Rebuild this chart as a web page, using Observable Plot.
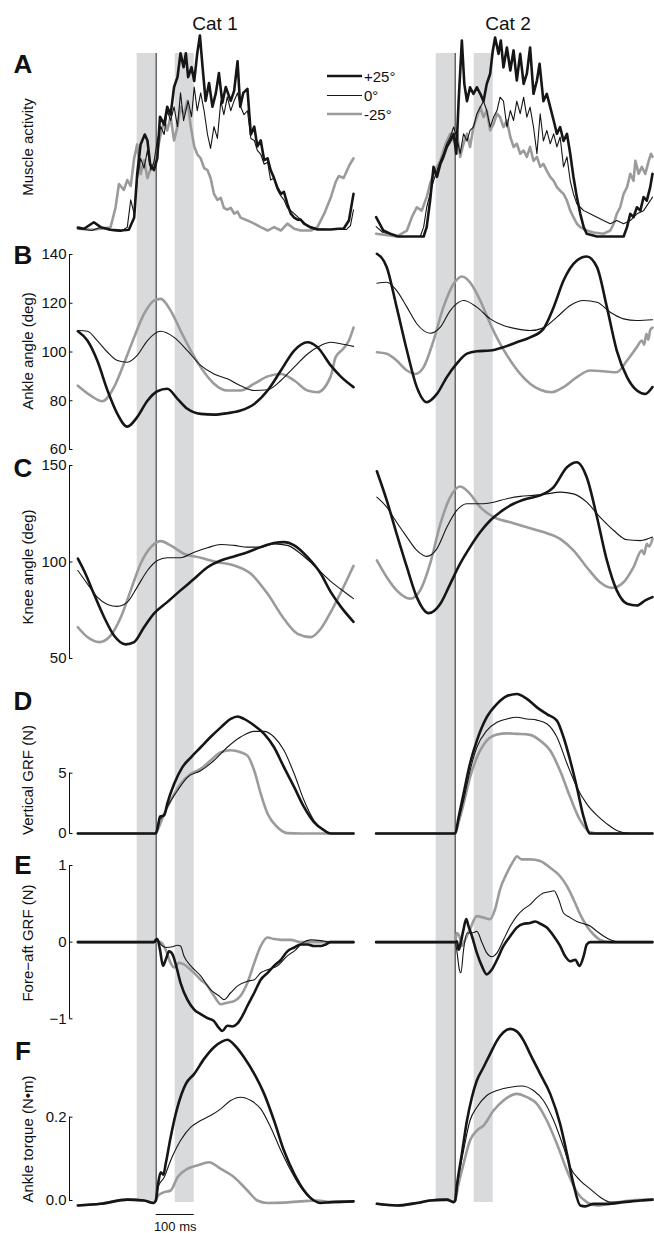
<!DOCTYPE html>
<html><head><meta charset="utf-8">
<script src="https://cdn.jsdelivr.net/npm/d3@7"></script>
<script src="https://cdn.jsdelivr.net/npm/@observablehq/plot@0.6"></script>
<style>
html,body{margin:0;padding:0;background:#fff;overflow:hidden;}
#fig{position:relative;width:654px;height:1233px;overflow:hidden;font-family:"Liberation Sans",Arial,Helvetica,sans-serif;color:#111;}
#fig .t{position:absolute;white-space:nowrap;transform:translate(-50%,-50%);line-height:1;}
#fig .letter{font-weight:bold;font-size:26px;}
#fig .cat{font-size:19px;}
#fig .ylab{font-size:15px;transform:translate(-50%,-50%) rotate(-90deg);}
</style></head>
<body><div id="fig"></div>
<script>
// ---------- categories / labels ----------
const conditionLabels = ["+25°", "0°", "-25°"];
const catLabels = ["Cat 1", "Cat 2"];
const panelLetters = ["A", "B", "C", "D", "E", "F"];
const yTitles = ["Muscle activity", "Ankle angle (deg)", "Knee angle (deg)", "Vertical GRF (N)", "Fore\u2212aft GRF (N)", "Ankle torque (N\u2022m)"];
const tDomain = [-207, 519];             // ms relative to paw contact
const bands = [{start: -50, end: 0}, {start: 50, end: 100}];
const contactTime = 0;
const scaleBar = [{start: 0, end: 100, label: "100 ms"}];
const ticksB = [60, 80, 100, 120, 140];
const ticksC = [50, 100, 150];
const ticksD = [0, 5];
const ticksE = [-1, 0, 1];
const ticksF = [0, 0.2];

// ---------- A: muscle activity (a.u.) [t ms, value] ----------
const A1_p25 = [[-206,3],[-190,2.4],[-164,5.7],[-146,3.2],[-120,1.9],[-93,1.5],[-72,1.9],[-58,8],[-50,30],[-41,45],[-30,50],[-23,47],[-16,35],[-6,32],[3,38],[10,59],[21,55],[29,64],[38,60],[47,74],[56,79],[64,91],[72,84],[78,91],[84,79],[93,84],[100,77],[108,91],[115,100],[122,84],[130,67],[139,76],[148,64],[157,71],[165,81],[174,66],[183,74],[196,67],[205,72],[214,87],[221,64],[229,71],[240,73],[249,50],[258,54],[266,44],[275,47],[284,37],[293,38],[301,32],[310,28],[319,23],[328,20],[336,21],[345,15],[354,10],[363,8],[372,7],[380,7],[389,5],[407,3],[424,2],[459,2],[480,2.4],[493,2.4],[507,6.6],[519,20]];
const A1_0 = [[-206,2.4],[-170,1.5],[-146,3.2],[-120,1.5],[-93,1],[-76,3.2],[-67,17],[-58,10],[-50,27],[-41,38],[-32,33],[-23,42],[-14,32],[-6,36],[3,47],[12,54],[21,50],[29,62],[38,57],[47,64],[56,54],[64,71],[72,57],[84,67],[93,59],[100,74],[108,62],[117,71],[126,62],[135,50],[143,43],[152,54],[161,48],[170,67],[178,60],[187,69],[196,62],[205,67],[214,71],[222,64],[231,60],[240,62],[249,48],[258,47],[266,42],[275,40],[284,35],[293,36],[301,27],[310,28],[319,22],[328,19],[336,17],[345,13],[363,10],[380,7],[398,4],[424,2.4],[459,2],[500,2],[511,4],[519,12]];
const A1_m25 = [[-206,2.4],[-164,1.9],[-120,3.2],[-107,13],[-98,25],[-85,22],[-76,27],[-67,24],[-58,38],[-50,45],[-41,30],[-32,37],[-23,28],[-14,33],[-6,35],[3,42],[12,50],[21,57],[29,52],[38,59],[47,47],[56,54],[64,64],[73,60],[82,67],[91,54],[100,44],[108,40],[117,38],[126,33],[135,32],[143,28],[152,20],[161,17],[170,18],[178,13],[187,12],[196,13],[205,10],[214,11],[222,8],[240,6.6],[258,5],[275,3.2],[293,1.5],[310,3.2],[328,1.5],[345,5],[363,2.4],[380,1.5],[407,1.5],[424,3.2],[442,10],[459,18],[472,26],[480,29],[493,28],[507,34],[519,38]];
const A2_p25 = [[-208,9.7],[-189,3],[-171,1.4],[-150,0],[-83,0],[-75,4.7],[-66,18],[-57,35],[-48,30],[-39,36.5],[-31,40],[-22,45],[-13,48],[-4,51.6],[3,41.6],[9,68],[17.5,98.5],[24,76.7],[31,68],[39,75],[48,71.7],[57,75],[66,71.7],[74.5,68],[83,76.7],[92,81.8],[99,93.5],[105,100],[114,91.8],[120,98.5],[127,85],[136,95],[145,83.4],[153.5,93.5],[162,78.4],[171,91.8],[180,76.7],[188.5,81.8],[197,95],[206,71.7],[215,78.4],[222,86.8],[232,68],[241,71.7],[250,65],[259,58.3],[267.5,51.6],[276,55],[285,48],[294,51.6],[302.6,41.6],[311,30],[320,19.8],[329,11.4],[338,4.7],[346,1.4],[373,0],[443,0],[452,4.7],[460.5,11.4],[469,9.7],[478,14.7],[487,13],[495.5,19.8],[504,18],[513,24.8],[519,31.5]];
const A2_0 = [[-208,5],[-190,2],[-171,1.4],[-150,0],[-92,0],[-83,4.7],[-75,14.7],[-66,21.4],[-57,28],[-48,33],[-39,38],[-31,41.6],[-22,46.6],[-13,50],[-4,55],[4,50],[13,41.6],[22,51.6],[31,48],[39,53.3],[48,55],[57,61.7],[66,65],[74.5,68],[83,63.3],[92,55],[101,60],[110,63.3],[118,70],[127,68],[136,55],[145,63.3],[153.5,58.3],[162,68],[171,61.7],[180,70],[188.5,60],[197,65],[206,55],[215,41.6],[223.6,61.7],[232,48],[241,53.3],[250,46.6],[259,51.6],[267.5,45],[276,50],[285,35],[294,40],[302.6,28],[311,21.4],[320,16.4],[329,14.7],[338,13],[355,11.4],[373,9.7],[390,8],[408,6.4],[425,8],[443,6.4],[460.5,8],[478,11.4],[495.5,13],[513,18],[519,19.8]];
const A2_m25 = [[-208,1.4],[-154,0],[-127,3],[-114,9.7],[-101,14.7],[-88,13],[-75,19.8],[-66,26.5],[-57,31.5],[-48,35],[-39,38],[-31,43.2],[-22,48],[-13,51.6],[-4,48],[4,53.3],[13,40],[22,46.6],[31,51.6],[39,45],[48,55],[57,60],[66,65],[74.5,60],[83,63.3],[92,53.3],[101,56.6],[110,61.7],[118,60],[127,55],[136,58.3],[145,50],[153.5,45],[162,46.6],[171,41.6],[180,43.2],[188.5,40],[197,45],[206,38],[215,40],[223.6,35],[232,36.5],[241,33],[250,30],[259,28],[267.5,24.8],[276,23],[285,21.4],[294,18],[302.6,13],[311,9.7],[320,6.4],[329,4.7],[346,3],[364,2],[390,1.4],[408,3],[417,6.4],[425,11.4],[434,14.7],[443,21.4],[452,24.8],[460.5,31.5],[469,28],[474,38],[482.6,31.5],[491,35],[500,31.5],[509,38],[515,41.6],[519,40]];

// ---------- B: ankle angle (deg) ----------
const B1_p25 = [[-206,108.5],[-181,104.7],[-155,96.5],[-128,84.2],[-102,74.6],[-76,69.4],[-50,73.3],[-23,80],[3,83.9],[29,84.9],[56,80.8],[82,76.7],[117,74.6],[152,74.3],[187,74.9],[222,76],[258,78.7],[293,84.2],[328,92.4],[363,100.6],[398,104],[424,102],[459,94.5],[485,90],[519,85.6]];
const B1_0 = [[-206,108.8],[-181,108.5],[-155,104.7],[-128,99.9],[-102,96.5],[-76,95.8],[-50,98.6],[-23,104.7],[12,108.5],[47,106],[82,100.6],[117,94.5],[152,91],[187,89],[222,86.2],[258,84.2],[293,84.5],[328,88.3],[363,93.8],[398,99.2],[433,102.7],[459,104],[485,103.4],[519,102.3]];
const B1_m25 = [[-206,86.2],[-172,82.1],[-142,79.8],[-111,85.6],[-85,95.2],[-58,106],[-32,115.6],[-6,121.1],[12,121.8],[38,117],[64,108.8],[91,100.6],[117,93.8],[152,87],[187,84.2],[222,84.2],[258,87],[293,90],[328,91],[363,88.3],[398,84.2],[424,83.5],[459,90],[472,97.9],[490,101],[507,104.7],[519,110]];
const B2_p25 = [[-206,140.3],[-180,134.8],[-154,118.4],[-127,100.6],[-101,85.6],[-75,79.4],[-48,82.8],[-22,89.7],[4,95.2],[31,99.3],[57,100.3],[92,100.6],[127,102],[162,104],[197,106],[232,109.5],[259,118.4],[285,129.3],[320,137.5],[346,139.2],[373,134.8],[399,118.4],[425,100.6],[452,89.7],[478,84.2],[500,82.8],[519,85.6]];
const B2_0 = [[-206,128.2],[-180,128.6],[-154,125.2],[-127,118.4],[-101,111.6],[-66,107.7],[-39,110.2],[-13,117],[22,121.1],[57,118.4],[92,113.6],[127,110.9],[162,109.5],[197,108.8],[232,109.9],[267.5,114.3],[302.6,119.1],[338,121.1],[373,120.4],[408,116.3],[443,113.6],[478,112.9],[519,113.2]];
const B2_m25 = [[-206,99.9],[-180,99.3],[-154,96.5],[-127,92.4],[-105,91],[-83,93.8],[-57,104.7],[-31,118.4],[-4,128],[17.5,131],[39,128.6],[66,121.1],[92,111.6],[118,103.4],[145,96.5],[171,91],[197,87],[223.6,84.5],[254,83.5],[285,85.6],[320,89.7],[355,92.4],[390,92.1],[425,91.7],[452,96.5],[478,102],[491,104.7],[497,103],[503,107.5],[508,105],[513,109],[519,110]];

// ---------- C: knee angle (deg) ----------
const C1_p25 = [[-206,101.7],[-186,93.9],[-164,83.5],[-137,71.4],[-111,61.9],[-80,57.3],[-58,58.5],[-32,66.2],[-6,73.2],[29,79.2],[64,85.3],[100,91.3],[135,97.3],[170,100.8],[205,102.9],[240,105.1],[275,107.7],[310,109.8],[336,110.3],[363,108.6],[398,102.5],[433,93.9],[459,84.5],[485,77],[519,69]];
const C1_0 = [[-206,95.6],[-181,88.7],[-155,81.8],[-128,78],[-102,77],[-76,79.2],[-50,87],[-23,95.6],[3,100.8],[29,102.2],[64,102.2],[100,105.1],[135,107.4],[170,109.1],[205,108.6],[240,107.7],[275,107.7],[310,109.4],[345,108.6],[380,104.3],[415,98.2],[459,90],[485,86],[519,81]];
const C1_m25 = [[-206,66.2],[-181,61.1],[-150,58.5],[-120,61.9],[-93,71.4],[-67,85.3],[-41,99.1],[-14,107.7],[12,110.8],[38,108.6],[73,104.3],[117,102.2],[161,99.9],[205,98.2],[249,93.9],[293,83.5],[336,70.6],[372,62.8],[407,61.1],[433,65.4],[459,74],[475,80],[500,90],[519,98]];
const C2_p25 = [[-206,147],[-180,131.9],[-154,114.6],[-127,97.3],[-101,81.8],[-70,73.5],[-39,78.4],[-13,88.7],[13,99.1],[39,107.7],[66,115.5],[92,121.5],[118,125.8],[153.5,130.2],[188.5,132.8],[223.6,134.5],[259,138.8],[294,149.1],[320,151.7],[346,143.9],[373,123.2],[399,100.8],[425,85.3],[452,78.4],[478,77.5],[500,80.1],[519,81.8]];
const C2_0 = [[-206,133.6],[-180,128.4],[-154,120.6],[-127,112.9],[-101,106],[-75,102.9],[-48,106.9],[-22,118],[4,126.7],[31,130.2],[66,130.2],[101,131],[136,132.8],[171,134],[206,134.5],[241,135.3],[276,136.2],[311,135.3],[346,131],[381,123.2],[417,116.3],[452,111.5],[487,111.1],[519,112.9]];
const C2_m25 = [[-206,100.8],[-180,92.1],[-154,85.3],[-118,81],[-92,85.3],[-66,99.1],[-39,119.8],[-13,133.6],[13,139.1],[39,135.3],[66,128.4],[101,123.2],[145,120.6],[188.5,118],[232,115.5],[276,112],[311,106],[346,97.3],[381,89.5],[412,86.6],[443,89.5],[469,97.3],[491,106],[497,104],[504,109.4],[510,108],[519,112]];

// ---------- D: vertical GRF (N) ----------
const D1_p25 = [[-206,0],[-1,0],[5,0.66],[10,1.4],[21,1.5],[29,2.46],[47,4.1],[69,5.5],[91,6.3],[117,7.15],[143,8],[170,8.8],[196,9.5],[214,9.7],[231,9.5],[258,8.95],[284,8.26],[310,7.15],[336,5.5],[363,3.84],[389,2.18],[415,0.94],[442,0.25],[459,0],[519,0]];
const D1_0 = [[-206,0],[-1,0],[7,1.08],[16,1.35],[29,2.18],[56,3.56],[82,4.66],[117,5.2],[152,6.05],[187,7.15],[222,8],[258,8.47],[284,8.47],[310,8],[336,6.9],[363,4.95],[389,2.73],[415,1.08],[442,0.25],[459,0],[519,0]];
const D1_m25 = [[-206,0],[-1,0],[3,0.25],[21,1.63],[38,2.73],[64,4.1],[91,4.95],[117,5.36],[143,6.05],[170,6.74],[196,6.9],[222,6.74],[240,6.46],[258,5.2],[275,3.3],[293,1.63],[319,0.52],[345,0.03],[380,0],[519,0]];
const D2_p25 = [[-208,0],[0,0],[9,1.35],[22,3.3],[39,5.8],[57,7.7],[83,9.64],[110,10.75],[136,11.4],[162,11.57],[188.5,11.16],[215,10.46],[241,9.9],[267.5,9.36],[285,7.98],[302.6,6.05],[320,3.84],[338,1.35],[355,0],[519,0]];
const D2_0 = [[-208,0],[0,0],[9,1.08],[22,2.73],[39,5.2],[57,7.15],[83,8.53],[110,9.22],[136,9.5],[162,9.64],[188.5,9.5],[215,9.4],[241,9.1],[267.5,8],[294,5.8],[320,3.84],[346,2.46],[373,1.5],[399,0.8],[425,0.25],[460,0],[519,0]];
const D2_m25 = [[-208,0],[0,0],[9,0.94],[22,2.46],[39,4.66],[57,6.3],[83,7.7],[110,8.2],[136,8.3],[162,8.26],[197,8.18],[223.6,7.7],[250,6.88],[276,5.2],[302.6,3],[329,1.08],[355,0.1],[381,0],[519,0]];

// ---------- E: fore-aft GRF (N) ----------
const E1_p25 = [[-206,0],[-6,0],[-1,0.03],[3,0.04],[10,-0.1],[18,-0.31],[25,-0.23],[34,-0.12],[43,-0.16],[51.5,-0.29],[64,-0.53],[82,-0.75],[100,-0.88],[117,-0.94],[135,-0.99],[152,-1.03],[165,-1.12],[174,-1.16],[187,-1.09],[200,-1.1],[214,-1.06],[227,-0.96],[240,-0.83],[258,-0.66],[275,-0.49],[293,-0.4],[310,-0.31],[328,-0.23],[345,-0.12],[363,-0.07],[380,-0.03],[398,-0.03],[415,-0.05],[433,-0.05],[446,-0.03],[459,0],[519,0]];
const E1_0 = [[-206,0],[-1,0],[3,0.04],[12,-0.03],[25,-0.07],[43,-0.06],[56,-0.04],[64,-0.05],[73,-0.18],[91,-0.31],[117,-0.44],[143,-0.62],[165,-0.7],[178,-0.75],[196,-0.66],[214,-0.57],[240,-0.51],[258,-0.49],[275,-0.4],[293,-0.36],[319,-0.31],[345,-0.18],[367,-0.1],[385,-0.01],[407,0.03],[433,0.02],[459,0],[519,0]];
const E1_m25 = [[-206,0],[-1,0],[1,0.01],[12,0],[25,-0.1],[38,-0.27],[47,-0.33],[60,-0.27],[73,-0.29],[91,-0.36],[117,-0.49],[135,-0.57],[152,-0.7],[170,-0.81],[187,-0.79],[205,-0.77],[222,-0.7],[240,-0.53],[258,-0.27],[275,-0.05],[293,0.06],[310,0.04],[328,0.03],[354,0.03],[380,0],[519,0]];
const E2_p25 = [[-208,0],[0,0],[4.6,0.01],[9,-0.1],[15,0],[22,0.17],[29,0.3],[35,0.21],[44,0.08],[57,-0.14],[70,-0.31],[83,-0.42],[96,-0.36],[110,-0.23],[127,-0.05],[145,0.08],[162,0.19],[180,0.24],[197,0.25],[210.5,0.27],[223.6,0.24],[241,0.19],[259,0.08],[276,-0.05],[289,-0.18],[302.6,-0.25],[316,-0.23],[327,-0.31],[338,-0.18],[346,-0.03],[355,0],[519,0]];
const E2_0 = [[-208,0],[0,0],[4,-0.1],[11,-0.36],[15,-0.4],[22,-0.1],[31,0.12],[44,0.12],[57,0.14],[70,0],[83,-0.14],[96,-0.19],[110,-0.14],[127,0.03],[145,0.21],[162,0.34],[180,0.43],[197,0.49],[215,0.58],[232,0.64],[250,0.66],[260,0.67],[272,0.56],[285,0.38],[302.6,0.32],[320,0.27],[338,0.24],[355,0.21],[373,0.14],[390,0.08],[408,0.03],[434,0],[519,0]];
const E2_m25 = [[-208,0],[0,0],[4,0.12],[11,0.08],[17.5,-0.05],[26,0.03],[39,0.17],[57,0.34],[74.5,0.32],[92,0.3],[105,0.43],[118,0.69],[136,0.9],[153.5,1.06],[162,1.12],[175,1.08],[197,1.08],[223.6,1.06],[250,0.97],[276,0.86],[294,0.73],[311,0.56],[329,0.36],[346,0.21],[364,0.1],[381.5,0.03],[408,0],[519,0]];

// ---------- F: ankle torque (N·m) ----------
const F1_p25 = [[-206,-0.012],[-146,-0.008],[-76,0.002],[-32,0],[-7,-0.006],[-1,0],[5,0.04],[12,0.068],[19,0.062],[25,0.088],[38,0.152],[56,0.224],[78,0.28],[100,0.304],[126,0.34],[152,0.368],[174,0.382],[187,0.386],[205,0.374],[231,0.344],[258,0.304],[284,0.256],[310,0.192],[336,0.12],[363,0.064],[389,0.024],[415,0],[433,-0.006],[459,-0.004],[519,-0.002]];
const F1_0 = [[-206,-0.012],[-146,-0.008],[-76,0.002],[-32,0],[-7,-0.006],[-1,0],[5,0.032],[21,0.056],[38,0.096],[64,0.144],[91,0.176],[117,0.192],[143,0.204],[170,0.22],[196,0.24],[222,0.248],[249,0.24],[275,0.22],[301,0.176],[328,0.12],[354,0.072],[380,0.032],[407,0.004],[433,-0.006],[459,-0.004],[519,-0.002]];
const F1_m25 = [[-206,-0.012],[-146,-0.008],[-76,0.002],[-32,0],[-7,-0.006],[-1,0],[5,0.012],[21,0.02],[38,0.024],[56,0.056],[82,0.076],[108,0.084],[139,0.092],[170,0.076],[205,0.056],[240,0.024],[266,0],[293,-0.006],[336,-0.005],[380,-0.002],[424,0],[459,-0.004],[519,-0.002]];
const F2_p25 = [[-206,-0.008],[-154,-0.012],[-101,-0.006],[-66,0],[-22,0.002],[-4,-0.004],[0,0],[4,0.032],[17.5,0.112],[31,0.192],[44,0.248],[57,0.288],[74.5,0.32],[92,0.352],[110,0.384],[127,0.404],[145,0.412],[162,0.406],[180,0.384],[197,0.352],[223.6,0.304],[250,0.256],[276,0.184],[294,0.112],[311,0.04],[329,-0.012],[342,-0.014],[364,-0.008],[399,-0.008],[443,-0.004],[487,0],[519,0.002]];
const F2_0 = [[-206,-0.008],[-154,-0.012],[-101,-0.006],[-66,0],[-22,0.002],[-4,-0.004],[0,0],[9,0.056],[22,0.12],[39,0.192],[57,0.224],[83,0.252],[110,0.264],[145,0.272],[175,0.275],[206,0.264],[232,0.24],[259,0.192],[285,0.128],[302.6,0.08],[329,0.048],[355,0.028],[381.5,0.008],[408,-0.004],[443,-0.004],[487,0],[519,0.002]];
const F2_m25 = [[-206,-0.008],[-154,-0.012],[-101,-0.006],[-66,0],[-22,0.002],[-4,-0.004],[0,0],[9,0.04],[22,0.088],[39,0.144],[57,0.168],[74.5,0.18],[101,0.216],[127,0.24],[162,0.256],[188.5,0.248],[215,0.232],[241,0.192],[267.5,0.136],[294,0.072],[320,0.02],[346,-0.004],[373,-0.012],[417,-0.006],[460.5,0],[519,0.002]];

// ---------- layout / style ----------
const FONT = '"Liberation Sans", Arial, Helvetica, sans-serif';
const W = 654, H = 1233;
const columns = [{marginLeft: 77, marginRight: 301}, {marginLeft: 376, marginRight: 2}];
const strokes = ["#161616", "#161616", "#9b9b9b"];
const widths = [2.6, 1.1, 2.6];
const drawOrder = [2, 0, 1];
const smooth = "monotone-x";
const panels = [
  {domain: [0, 100], ticks: null, frames: [[35, 1000], [37, 997]], curve: "linear", series: [[A1_p25, A1_0, A1_m25], [A2_p25, A2_0, A2_m25]]},
  {domain: [60, 140], ticks: ticksB, fmt: d3.format("d"), frames: [[254, 784], [254, 784]], curve: smooth, series: [[B1_p25, B1_0, B1_m25], [B2_p25, B2_0, B2_m25]]},
  {domain: [50, 150], ticks: ticksC, fmt: d3.format("d"), frames: [[465, 575], [465, 575]], curve: smooth, series: [[C1_p25, C1_0, C1_m25], [C2_p25, C2_0, C2_m25]]},
  {domain: [0, 5], ticks: ticksD, fmt: d3.format("d"), frames: [[772.7, 400], [772.7, 400]], curve: smooth, series: [[D1_p25, D1_0, D1_m25], [D2_p25, D2_0, D2_m25]]},
  {domain: [-1, 1], ticks: ticksE, fmt: d3.format("d"), frames: [[865, 214.7], [865, 214.7]], curve: smooth, series: [[E1_p25, E1_0, E1_m25], [E2_p25, E2_0, E2_m25]]},
  {domain: [0, 0.2], ticks: ticksF, fmt: d3.format(".1f"), frames: [[1116.7, 33], [1116.7, 33]], curve: smooth, series: [[F1_p25, F1_0, F1_m25], [F2_p25, F2_0, F2_m25]]}
];
const letterY = [64, 255, 468, 701, 865, 1051];
const yTitleY = [147, 351, 567, 780, 943, 1139];
const catX = [215, 508];

const fig = document.getElementById("fig");
function addPlot(opts) {
  const svg = Plot.plot({
    width: W, height: H,
    style: {background: "transparent", overflow: "visible", fontFamily: FONT, fontSize: "15px", color: "#111"},
    ...opts
  });
  svg.style.position = "absolute";
  svg.style.left = "0px";
  svg.style.top = "0px";
  fig.appendChild(svg);
}

// background bands + contact line
columns.forEach(col => addPlot({
  marginLeft: col.marginLeft, marginRight: col.marginRight, marginTop: 53, marginBottom: 31,
  x: {domain: tDomain, axis: null},
  marks: [
    Plot.rect(bands, {x1: "start", x2: "end", fill: "#d9dadc"}),
    Plot.ruleX([contactTime], {stroke: "#4d4d4d", strokeWidth: 1.3})
  ]
}));

// panels
panels.forEach(p => columns.forEach((col, c) => {
  const [mt, mb] = p.frames[c];
  const marks = [];
  const withAxis = c === 0 && p.ticks;
  if (withAxis) {
    const fw = W - col.marginLeft - col.marginRight;
    marks.push(
      Plot.ruleX([tDomain[0]], {y1: p.ticks[0], y2: p.ticks[p.ticks.length - 1], dx: -8, stroke: "#111", strokeWidth: 1}),
      Plot.tickY(p.ticks, {dx: -8, insetRight: fw - 3.5, stroke: "#111", strokeWidth: 1}),
      Plot.axisY({ticks: p.ticks, tickFormat: p.fmt, tickSize: 0, tickPadding: 11, fontSize: 15, label: null})
    );
  }
  drawOrder.forEach(k => marks.push(Plot.line(p.series[c][k], {
    x: d => d[0], y: d => d[1], stroke: strokes[k], strokeWidth: widths[k],
    curve: p.curve, strokeLinejoin: "round", strokeLinecap: "round"
  })));
  addPlot({
    marginLeft: col.marginLeft, marginRight: col.marginRight, marginTop: mt, marginBottom: mb,
    x: {domain: tDomain, axis: null},
    y: withAxis ? {domain: p.domain, label: null} : {domain: p.domain, axis: null},
    marks
  });
}));

// 100 ms scale bar
addPlot({
  marginLeft: columns[0].marginLeft, marginRight: columns[0].marginRight, marginTop: 1208, marginBottom: 13,
  x: {domain: tDomain, axis: null},
  marks: [
    Plot.ruleY(scaleBar, {x1: "start", x2: "end", y: null, stroke: "#111", strokeWidth: 1.2}),
    Plot.text(scaleBar, {x: d => (d.start + d.end) / 2, text: "label", frameAnchor: "bottom", dy: 6, lineAnchor: "middle", fontSize: 13, fill: "#111"})
  ]
});

// legend
const lg = document.createElementNS("http://www.w3.org/2000/svg", "svg");
lg.setAttribute("width", W); lg.setAttribute("height", 140);
lg.style.position = "absolute"; lg.style.left = "0px"; lg.style.top = "0px";
const legendY = [76, 95.5, 114];
conditionLabels.forEach((lab, k) => {
  const ln = document.createElementNS(lg.namespaceURI, "line");
  ln.setAttribute("x1", 327); ln.setAttribute("x2", 362);
  ln.setAttribute("y1", legendY[k]); ln.setAttribute("y2", legendY[k]);
  ln.setAttribute("stroke", strokes[k]); ln.setAttribute("stroke-width", widths[k]);
  lg.appendChild(ln);
  const tx = document.createElementNS(lg.namespaceURI, "text");
  tx.setAttribute("x", 364); tx.setAttribute("y", legendY[k]);
  tx.setAttribute("dominant-baseline", "central");
  tx.setAttribute("font-family", FONT); tx.setAttribute("font-size", 15); tx.setAttribute("fill", "#111");
  tx.textContent = lab;
  lg.appendChild(tx);
});
fig.appendChild(lg);

// text labels
function addText(txt, x, y, cls) {
  const d = document.createElement("div");
  d.className = "t " + cls;
  d.style.left = x + "px"; d.style.top = y + "px";
  d.textContent = txt;
  fig.appendChild(d);
}
catLabels.forEach((c, i) => addText(c, catX[i], 23, "cat"));
panelLetters.forEach((l, i) => addText(l, 23, letterY[i], "letter"));
yTitles.forEach((t, i) => addText(t, 27, yTitleY[i], "ylab"));
</script>
</body></html>
